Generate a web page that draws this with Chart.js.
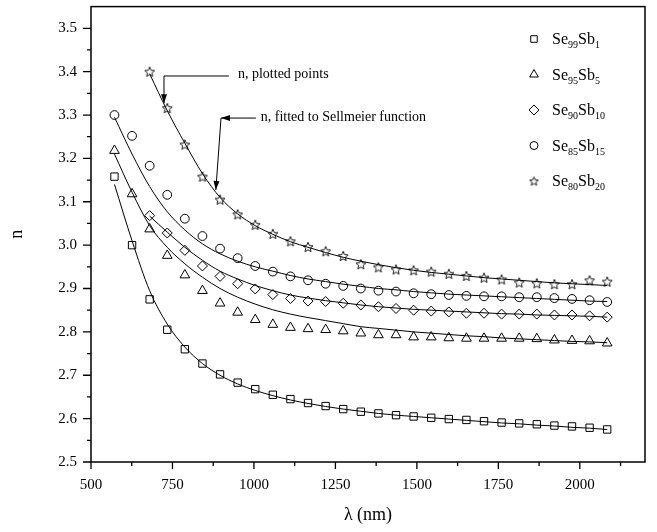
<!DOCTYPE html>
<html>
<head>
<meta charset="utf-8">
<script src="https://cdn.jsdelivr.net/npm/chart.js@4.4.0/dist/chart.umd.min.js"></script>
<style>
  html, body { margin: 0; padding: 0; background: #fff; }
  #wrap { width: 657px; height: 532px; }
</style>
</head>
<body>
<div id="wrap"><canvas id="grafico"></canvas></div>
<script>
// wavelengths (nm)
const lambdas = [572, 626, 680, 734, 788, 842, 896, 950, 1004, 1058, 1112, 1166, 1220, 1274, 1328,
                 1382, 1436, 1490, 1544, 1598, 1652, 1706, 1760, 1814, 1868, 1922, 1976, 2030, 2084];

// measured refractive index (markers)
const nSe99Sb1 = [3.158, 3.000, 2.875, 2.805, 2.760, 2.727, 2.702, 2.683, 2.668, 2.655, 2.645, 2.636, 2.629, 2.622, 2.616,
                  2.612, 2.608, 2.605, 2.602, 2.599, 2.597, 2.594, 2.591, 2.589, 2.587, 2.584, 2.582, 2.579, 2.575];
const nSe95Sb5 = [3.218, 3.118, 3.037, 2.976, 2.931, 2.895, 2.866, 2.845, 2.828, 2.817, 2.810, 2.807, 2.805, 2.802, 2.797,
                  2.793, 2.793, 2.788, 2.788, 2.786, 2.785, 2.785, 2.785, 2.785, 2.784, 2.781, 2.780, 2.779, 2.774];
const nSe90Sb10 = [null, null, 3.068, 3.028, 2.988, 2.952, 2.928, 2.911, 2.899, 2.886, 2.877, 2.871, 2.870, 2.866, 2.862,
                   2.858, 2.854, 2.850, 2.848, 2.846, 2.843, 2.843, 2.841, 2.841, 2.841, 2.839, 2.839, 2.837, 2.834];
const nSe85Sb15 = [3.300, 3.252, 3.183, 3.116, 3.061, 3.021, 2.992, 2.970, 2.952, 2.939, 2.928, 2.919, 2.911, 2.906, 2.900,
                   2.895, 2.893, 2.889, 2.887, 2.885, 2.883, 2.882, 2.882, 2.880, 2.880, 2.878, 2.876, 2.873, 2.869];
const nSe80Sb20 = [null, null, 3.400, 3.316, 3.232, 3.158, 3.105, 3.071, 3.047, 3.026, 3.009, 2.996, 2.986, 2.975, 2.956,
                   2.949, 2.944, 2.942, 2.939, 2.934, 2.929, 2.925, 2.921, 2.914, 2.912, 2.910, 2.910, 2.919, 2.916];

// Sellmeier fit curves
const fitSe99Sb1 = [3.140, 3.010, 2.895, 2.818, 2.765, 2.727, 2.700, 2.680, 2.665, 2.653, 2.643, 2.635, 2.628, 2.622, 2.617,
                    2.612, 2.608, 2.605, 2.602, 2.599, 2.596, 2.593, 2.590, 2.588, 2.585, 2.583, 2.580, 2.578, 2.575];
const fitSe95Sb5 = [3.210, 3.122, 3.045, 2.995, 2.957, 2.926, 2.900, 2.880, 2.864, 2.851, 2.841, 2.833, 2.826, 2.819, 2.812,
                    2.808, 2.804, 2.800, 2.797, 2.794, 2.791, 2.789, 2.786, 2.784, 2.782, 2.780, 2.778, 2.777, 2.775];
const fitSe90Sb10 = [null, null, 3.067, 3.030, 2.995, 2.965, 2.940, 2.922, 2.907, 2.895, 2.885, 2.878, 2.872, 2.867, 2.862,
                     2.858, 2.855, 2.852, 2.850, 2.848, 2.846, 2.844, 2.842, 2.841, 2.839, 2.838, 2.837, 2.836, 2.834];
const fitSe85Sb15 = [3.295, 3.210, 3.135, 3.077, 3.035, 3.003, 2.980, 2.963, 2.950, 2.940, 2.930, 2.922, 2.916, 2.910, 2.905,
                     2.900, 2.897, 2.893, 2.890, 2.887, 2.885, 2.883, 2.881, 2.879, 2.877, 2.875, 2.873, 2.871, 2.870];
const fitSe80Sb20 = [null, null, 3.395, 3.310, 3.235, 3.165, 3.110, 3.072, 3.045, 3.025, 3.008, 2.995, 2.983, 2.972, 2.963,
                     2.955, 2.948, 2.942, 2.937, 2.933, 2.929, 2.925, 2.922, 2.919, 2.916, 2.913, 2.911, 2.909, 2.907];

// legend: [base, subscript] pairs
const legendNames = [
  [['Se', '99'], ['Sb', '1']],
  [['Se', '95'], ['Sb', '5']],
  [['Se', '90'], ['Sb', '10']],
  [['Se', '85'], ['Sb', '15']],
  [['Se', '80'], ['Sb', '20']]
];

const FONT = '"Liberation Serif", "DejaVu Serif", serif';

// 5-point hollow star as point image
function makeStar(outer) {
  const s = Math.ceil(outer * 2 + 3);
  const c = document.createElement('canvas');
  c.width = s; c.height = s;
  const g = c.getContext('2d');
  const inner = outer * 0.45;
  g.beginPath();
  for (let k = 0; k < 10; k++) {
    const r = k % 2 === 0 ? outer : inner;
    const a = -Math.PI / 2 + k * Math.PI / 5;
    const px = s / 2 + r * Math.cos(a), py = s / 2 + 0.5 + r * Math.sin(a);
    k === 0 ? g.moveTo(px, py) : g.lineTo(px, py);
  }
  g.closePath();
  g.strokeStyle = '#000';
  g.lineWidth = 0.9;
  g.stroke();
  return c;
}
const starBig = makeStar(5.2);
const starSmall = makeStar(4.6);

const markerStyles = [
  { pointStyle: 'rect', radius: 5.2 },
  { pointStyle: 'triangle', radius: 5.6 },
  { pointStyle: 'rectRot', radius: 5 },
  { pointStyle: 'circle', radius: 4.4 },
  { pointStyle: starBig, radius: 5 }
];
const legendStyles = [
  { pointStyle: 'rect', radius: 4.6 },
  { pointStyle: 'triangle', radius: 5 },
  { pointStyle: 'rectRot', radius: 5 },
  { pointStyle: 'circle', radius: 4 },
  { pointStyle: starSmall, radius: 4 }
];

const measured = [nSe99Sb1, nSe95Sb5, nSe90Sb10, nSe85Sb15, nSe80Sb20];
const fitted = [fitSe99Sb1, fitSe95Sb5, fitSe90Sb10, fitSe85Sb15, fitSe80Sb20];

function toPoints(arr) {
  return lambdas.map((x, i) => ({ x: x, y: arr[i] })).filter(p => p.y !== null);
}

const datasets = [];
fitted.forEach(function (arr) {
  datasets.push({
    data: toPoints(arr),
    showLine: true,
    borderColor: '#000',
    borderWidth: 1,
    pointRadius: 0,
    tension: 0.4,
    cubicInterpolationMode: 'monotone',
    fill: false
  });
});
measured.forEach(function (arr, i) {
  datasets.push({
    data: toPoints(arr),
    showLine: false,
    pointStyle: markerStyles[i].pointStyle,
    pointRadius: markerStyles[i].radius,
    pointBorderColor: '#000',
    pointBackgroundColor: 'rgba(0,0,0,0)',
    pointBorderWidth: 1
  });
});

// annotations in data units: text anchor and arrow path
const notes = [
  { text: 'n, plotted points', at: [951, 3.394], path: [[923, 3.390], [724, 3.390], [724, 3.327]], heads: [2] },
  { text: 'n, fitted to Sellmeier function', at: [1021, 3.295], path: [[1006, 3.293], [899, 3.293], [883, 3.127]], heads: [1, 2] }
];

function arrowHead(ctx, x0, y0, x1, y1) {
  const a = Math.atan2(y1 - y0, x1 - x0);
  const L = 9, W = 3;
  ctx.beginPath();
  ctx.moveTo(x1, y1);
  ctx.lineTo(x1 - L * Math.cos(a) + W * Math.sin(a), y1 - L * Math.sin(a) - W * Math.cos(a));
  ctx.lineTo(x1 - L * Math.cos(a) - W * Math.sin(a), y1 - L * Math.sin(a) + W * Math.cos(a));
  ctx.closePath();
  ctx.fill();
}

const decor = {
  id: 'decor',
  afterDraw(chart) {
    const ctx = chart.ctx;
    const a = chart.chartArea;
    const xs = chart.scales.x, ys = chart.scales.y;
    ctx.save();
    ctx.strokeStyle = '#000';
    ctx.fillStyle = '#000';

    // frame
    ctx.lineWidth = 1.5;
    ctx.strokeRect(a.left, a.top, a.right - a.left, a.bottom - a.top);

    // major + minor ticks, outward
    ctx.lineWidth = 1.3;
    ctx.beginPath();
    xs.ticks.forEach(function (t) {
      const px = xs.getPixelForValue(t.value);
      const major = (t.value - 500) % 250 === 0;
      ctx.moveTo(px, a.bottom); ctx.lineTo(px, a.bottom + (major ? 7 : 4));
    });
    ys.ticks.forEach(function (t) {
      const py = ys.getPixelForValue(t.value);
      ctx.moveTo(a.left, py); ctx.lineTo(a.left - 8, py);
      const mid = t.value + 0.05;
      if (mid < ys.max - 0.01) {
        const pm = ys.getPixelForValue(mid);
        ctx.moveTo(a.left, pm); ctx.lineTo(a.left - 4, pm);
      }
    });
    ctx.stroke();

    // annotations
    ctx.lineWidth = 1;
    ctx.font = '14px ' + FONT;
    ctx.textBaseline = 'middle';
    ctx.textAlign = 'left';
    notes.forEach(function (nt) {
      ctx.fillText(nt.text, xs.getPixelForValue(nt.at[0]), ys.getPixelForValue(nt.at[1]));
      const pts = nt.path.map(p => [xs.getPixelForValue(p[0]), ys.getPixelForValue(p[1])]);
      ctx.beginPath();
      pts.forEach((p, k) => k === 0 ? ctx.moveTo(p[0], p[1]) : ctx.lineTo(p[0], p[1]));
      ctx.stroke();
      nt.heads.forEach(function (k) {
        arrowHead(ctx, pts[k - 1][0], pts[k - 1][1], pts[k][0], pts[k][1]);
      });
    });

    // legend
    const lx = 534, ly0 = 39, dy = 35.5;
    legendNames.forEach(function (parts, i) {
      const y = ly0 + i * dy;
      ctx.fillStyle = 'rgba(0,0,0,0)';
      ctx.lineWidth = 1;
      Chart.helpers.drawPoint(ctx, {
        pointStyle: legendStyles[i].pointStyle,
        radius: legendStyles[i].radius,
        rotation: 0,
        borderWidth: 1
      }, lx, y);
      ctx.fillStyle = '#000';
      let x = 552;
      ctx.textBaseline = 'alphabetic';
      parts.forEach(function (pr) {
        ctx.font = '16px ' + FONT;
        ctx.fillText(pr[0], x, y + 5);
        x += ctx.measureText(pr[0]).width;
        ctx.font = '10px ' + FONT;
        ctx.fillText(pr[1], x, y + 9);
        x += ctx.measureText(pr[1]).width;
      });
    });
    ctx.restore();
  }
};

new Chart(document.getElementById('grafico'), {
  type: 'line',
  data: { datasets: datasets },
  plugins: [decor],
  options: {
    responsive: true,
    maintainAspectRatio: false,
    animation: false,
    layout: { padding: { top: 6, right: 12, left: 0, bottom: 0 } },
    plugins: { legend: { display: false }, tooltip: { enabled: false } },
    scales: {
      x: {
        type: 'linear',
        min: 500,
        max: 2200,
        grid: { display: false, drawTicks: false },
        border: { display: false },
        ticks: { stepSize: 125, includeBounds: false, autoSkip: false, color: '#000', padding: 14, maxRotation: 0,
                 font: { family: FONT, size: 15 },
                 callback: v => ((v - 500) % 250 === 0 ? String(v) : '') },
        title: { display: true, text: 'λ (nm)', color: '#000', font: { family: FONT, size: 18 },
                 padding: { top: 0, bottom: 6 } },
        afterFit(s) { s.height = 70; s.paddingLeft = 0; s.paddingRight = 0; }
      },
      y: {
        type: 'linear',
        min: 2.5,
        max: 3.55,
        grid: { display: false, drawTicks: false },
        border: { display: false },
        ticks: { stepSize: 0.1, includeBounds: false, color: '#000', padding: 14,
                 font: { family: FONT, size: 15 },
                 callback: v => Number(v).toFixed(1) },
        title: { display: true, text: 'n', color: '#000', font: { family: FONT, size: 18 },
                 padding: { top: 6, bottom: 8 } },
        afterFit(s) { s.width = 91; s.paddingTop = 0; s.paddingBottom = 0; }
      }
    }
  }
});
</script>
</body>
</html>
